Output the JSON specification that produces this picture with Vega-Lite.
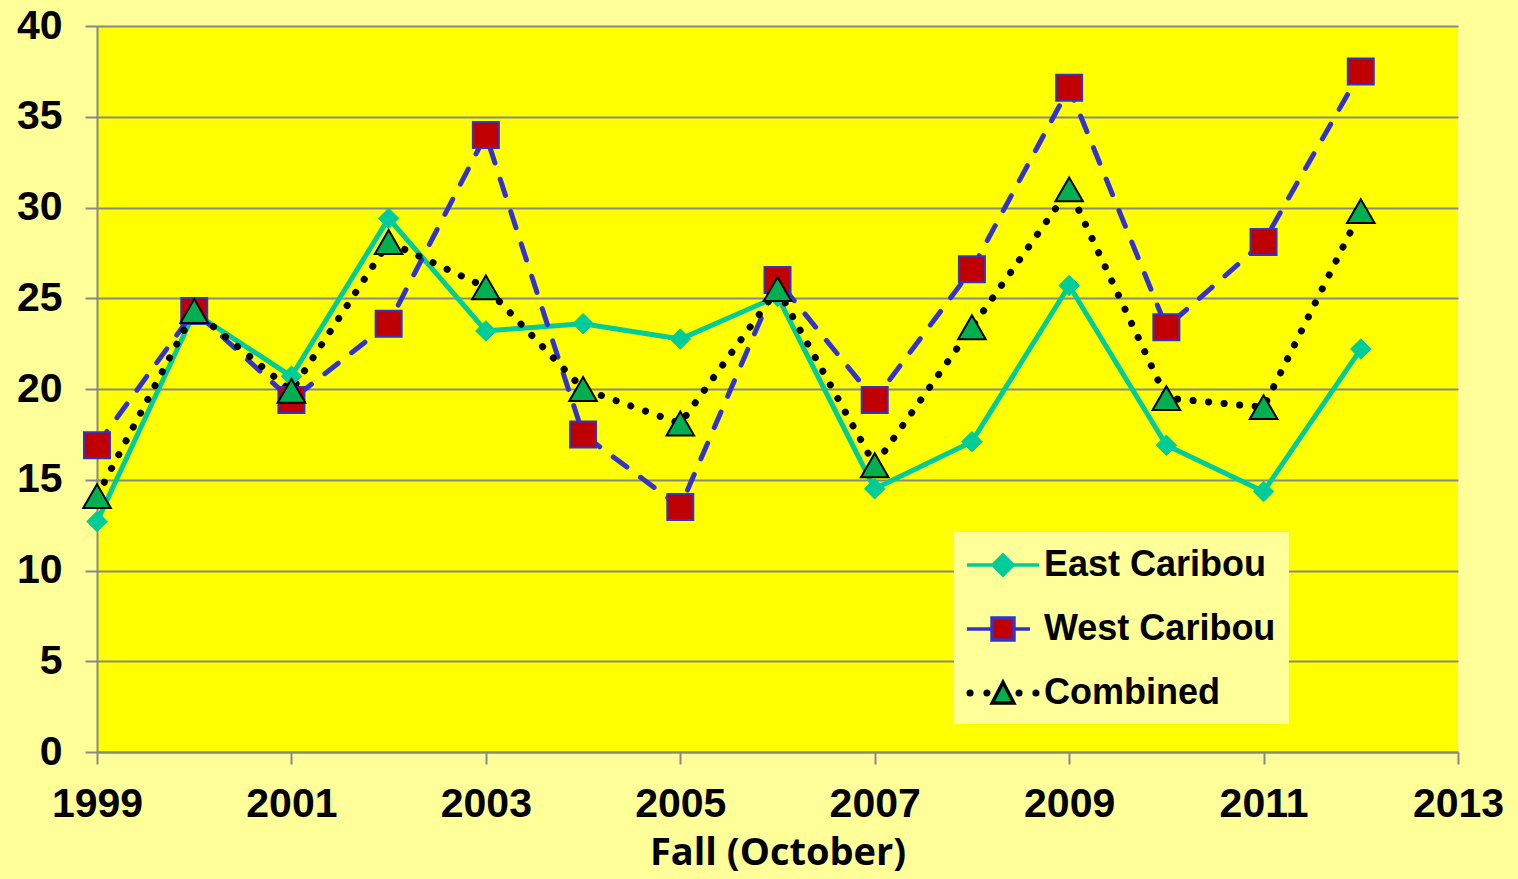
{
  "$schema": "https://vega.github.io/schema/vega-lite/v6.json",
  "width": 1361,
  "height": 726,
  "autosize": {"type": "none"},
  "padding": {"left": 97, "top": 26, "right": 60, "bottom": 127},
  "background": "#FFFF99",
  "config": {"view": {"fill": "#FFFF00", "stroke": null}, "font": "Liberation Sans"},
  "data": {"values": [
    {"year": 1999, "series": "East Caribou", "value": 12.7},
    {"year": 2000, "series": "East Caribou", "value": 24.2},
    {"year": 2001, "series": "East Caribou", "value": 20.7},
    {"year": 2002, "series": "East Caribou", "value": 29.4},
    {"year": 2003, "series": "East Caribou", "value": 23.2},
    {"year": 2004, "series": "East Caribou", "value": 23.6},
    {"year": 2005, "series": "East Caribou", "value": 22.75},
    {"year": 2006, "series": "East Caribou", "value": 25.1},
    {"year": 2007, "series": "East Caribou", "value": 14.5},
    {"year": 2008, "series": "East Caribou", "value": 17.1},
    {"year": 2009, "series": "East Caribou", "value": 25.7},
    {"year": 2010, "series": "East Caribou", "value": 16.9},
    {"year": 2011, "series": "East Caribou", "value": 14.35},
    {"year": 2012, "series": "East Caribou", "value": 22.2},
    {"year": 1999, "series": "West Caribou", "value": 16.9},
    {"year": 2000, "series": "West Caribou", "value": 24.3},
    {"year": 2001, "series": "West Caribou", "value": 19.4},
    {"year": 2002, "series": "West Caribou", "value": 23.6},
    {"year": 2003, "series": "West Caribou", "value": 34.0},
    {"year": 2004, "series": "West Caribou", "value": 17.5},
    {"year": 2005, "series": "West Caribou", "value": 13.5},
    {"year": 2006, "series": "West Caribou", "value": 26.0},
    {"year": 2007, "series": "West Caribou", "value": 19.4},
    {"year": 2008, "series": "West Caribou", "value": 26.6},
    {"year": 2009, "series": "West Caribou", "value": 36.6},
    {"year": 2010, "series": "West Caribou", "value": 23.4},
    {"year": 2011, "series": "West Caribou", "value": 28.1},
    {"year": 2012, "series": "West Caribou", "value": 37.5},
    {"year": 1999, "series": "Combined", "value": 14.1},
    {"year": 2000, "series": "Combined", "value": 24.3},
    {"year": 2001, "series": "Combined", "value": 19.9},
    {"year": 2002, "series": "Combined", "value": 28.1},
    {"year": 2003, "series": "Combined", "value": 25.6},
    {"year": 2004, "series": "Combined", "value": 20.0},
    {"year": 2005, "series": "Combined", "value": 18.1},
    {"year": 2006, "series": "Combined", "value": 25.5},
    {"year": 2007, "series": "Combined", "value": 15.8},
    {"year": 2008, "series": "Combined", "value": 23.4},
    {"year": 2009, "series": "Combined", "value": 31.0},
    {"year": 2010, "series": "Combined", "value": 19.5},
    {"year": 2011, "series": "Combined", "value": 19.0},
    {"year": 2012, "series": "Combined", "value": 29.8}
  ]},
  "encoding": {
    "x": {
      "field": "year", "type": "quantitative",
      "scale": {"domain": [1999, 2013], "nice": false, "zero": false},
      "axis": {
        "title": "Fall (October)",
        "values": [1999, 2001, 2003, 2005, 2007, 2009, 2011, 2013],
        "format": "d", "grid": false,
        "domainColor": "#888888", "domainWidth": 2,
        "tickColor": "#888888", "tickWidth": 2, "tickSize": 12,
        "labelFont": "Liberation Sans", "labelFontSize": 41, "labelFontWeight": "bold", "labelColor": "#000000",
        "labelPadding": 20, "labelFlush": false, "labelOverlap": false,
        "titleFont": "Open Sans", "titleFontSize": 38, "titleFontWeight": "bold", "titleColor": "#000000",
        "titlePadding": 10
      }
    },
    "y": {
      "field": "value", "type": "quantitative",
      "scale": {"domain": [0, 40], "nice": false},
      "axis": {
        "title": null,
        "values": [0, 5, 10, 15, 20, 25, 30, 35, 40],
        "grid": true, "gridColor": "#888888", "gridWidth": 2,
        "domainColor": "#888888", "domainWidth": 2,
        "tickColor": "#888888", "tickWidth": 2, "tickSize": 12,
        "labelFont": "Liberation Sans", "labelFontSize": 41, "labelFontWeight": "bold", "labelColor": "#000000",
        "labelPadding": 23, "labelOverlap": false
      }
    }
  },
  "layer": [
    {
      "transform": [{"filter": "datum.series === 'East Caribou'"}],
      "mark": {"type": "line", "color": "#00CC99", "strokeWidth": 5, "strokeCap": "round", "strokeJoin": "round"}
    },
    {
      "transform": [{"filter": "datum.series === 'West Caribou'"}],
      "mark": {"type": "line", "color": "#3333CC", "strokeWidth": 5, "strokeCap": "round", "strokeDash": [17, 17]}
    },
    {
      "transform": [{"filter": "datum.series === 'Combined'"}],
      "mark": {"type": "line", "color": "#000000", "strokeWidth": 7, "strokeCap": "round", "strokeDash": [0.1, 15.5]}
    },
    {
      "transform": [{"filter": "datum.series === 'East Caribou'"}],
      "mark": {"type": "point", "shape": "diamond", "filled": true, "fill": "#00CC99", "stroke": "#00CC99", "strokeWidth": 1, "size": 420, "opacity": 1}
    },
    {
      "transform": [{"filter": "datum.series === 'West Caribou'"}],
      "mark": {"type": "point", "shape": "square", "filled": true, "fill": "#C00000", "stroke": "#3333CC", "strokeWidth": 2, "size": 676, "opacity": 1}
    },
    {
      "transform": [{"filter": "datum.series === 'Combined'"}],
      "mark": {"type": "point", "shape": "triangle-up", "filled": true, "fill": "#00B050", "stroke": "#000000", "strokeWidth": 2, "size": 760, "opacity": 1}
    },
    {
      "transform": [{"filter": "false"}],
      "mark": {"type": "point", "filled": true, "opacity": 1},
      "encoding": {
        "shape": {
          "field": "series", "type": "nominal",
          "scale": {
            "domain": ["East Caribou", "West Caribou", "Combined"],
            "range": [
              "M-2,0H2M0,-0.56L0.56,0L0,0.56L-0.56,0Z",
              "M-2,0H-0.61M0.61,0H1.5M-0.61,-0.61H0.61V0.61H-0.61Z",
              "M0,-0.6L0.6,0.55L-0.6,0.55ZM-1.93,0a0.1,0.1 0 1,0 0.2,0a0.1,0.1 0 1,0 -0.2,0M-0.99,0a0.1,0.1 0 1,0 0.2,0a0.1,0.1 0 1,0 -0.2,0M0.79,0a0.1,0.1 0 1,0 0.2,0a0.1,0.1 0 1,0 -0.2,0M1.73,0a0.1,0.1 0 1,0 0.2,0a0.1,0.1 0 1,0 -0.2,0"
            ]
          },
          "legend": {
            "title": null, "orient": "none", "legendX": 857, "legendY": 506,
            "fillColor": "#FFFF99", "strokeColor": null, "padding": 13,
            "symbolSize": 1296, "symbolStrokeWidth": 3.5, "symbolOffset": 16,
            "labelFont": "Liberation Sans", "labelFontSize": 36, "labelFontWeight": "bold", "labelColor": "#000000",
            "labelOffset": 21, "rowPadding": 26, "labelLimit": 400
          }
        },
        "fill": {
          "field": "series", "type": "nominal",
          "scale": {"domain": ["East Caribou", "West Caribou", "Combined"], "range": ["#00CC99", "#C00000", "#00B050"]}
        },
        "stroke": {
          "field": "series", "type": "nominal",
          "scale": {"domain": ["East Caribou", "West Caribou", "Combined"], "range": ["#00CC99", "#3333CC", "#000000"]}
        }
      }
    }
  ]
}
